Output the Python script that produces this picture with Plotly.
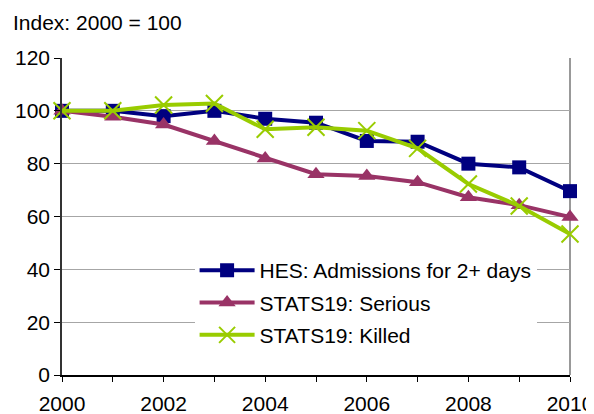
import plotly.graph_objects as go

years = [2000, 2001, 2002, 2003, 2004, 2005, 2006, 2007, 2008, 2009, 2010]
hes = [100, 100, 98, 100, 97, 95.5, 88.6, 88.3, 80, 78.6, 69.6]
serious = [100, 97.8, 94.8, 88.6, 82, 76, 75.3, 73, 67.3, 64.3, 59.8]
killed = [100, 100, 102.2, 102.8, 93, 93.8, 92.5, 85.8, 72.3, 64, 53.4]

series_names = ["HES: Admissions for 2+ days", "STATS19: Serious", "STATS19: Killed"]
y_ticks = [0, 20, 40, 60, 80, 100, 120]
x_tick_labels = [2000, 2002, 2004, 2006, 2008, 2010]

FONT = "Liberation Sans, Arial, sans-serif"
FS = 21

fig = go.Figure()
fig.add_trace(go.Scatter(
    x=years, y=hes, name=series_names[0], mode="lines+markers",
    line=dict(color="#000080", width=4),
    marker=dict(symbol="square", size=14, color="#000080"),
    legendgroup="a", cliponaxis=False))
fig.add_trace(go.Scatter(
    x=years, y=serious, name=series_names[1], mode="lines+markers",
    line=dict(color="#993366", width=4),
    marker=dict(symbol="triangle-up", size=15, color="#993366"),
    legendgroup="b", cliponaxis=False))
fig.add_trace(go.Scatter(
    x=years, y=killed, name=series_names[2], mode="lines+markers",
    line=dict(color="#99CC00", width=4),
    marker=dict(symbol="x-thin", size=17, line=dict(color="#99CC00", width=2)),
    legendgroup="c", cliponaxis=False))

# page body has an 8px margin, so the figure is drawn 8px in from the window edge
fig.update_layout(
    width=586, height=406,
    margin=dict(l=54, r=24, t=50, b=39),
    plot_bgcolor="white", paper_bgcolor="white",
    font=dict(family=FONT, size=FS, color="black"),
    showlegend=True,
    legend=dict(
        x=0.261, y=0.394, xanchor="left", yanchor="top",
        bgcolor="white", font=dict(size=FS, family=FONT),
        itemwidth=55, traceorder="grouped", tracegroupgap=2,
    ),
    annotations=[dict(
        text="Index: 2000 = 100", xref="paper", yref="paper",
        x=-51/508, y=1 + 36/317, xanchor="left", yanchor="middle",
        showarrow=False, font=dict(size=FS, family=FONT))],
)
fig.update_xaxes(
    range=[2000, 2010], tickvals=x_tick_labels, ticktext=[str(v) for v in x_tick_labels],
    ticks="outside", ticklen=5, tickcolor="black", tickwidth=1,
    minor=dict(dtick=1, ticks="outside", ticklen=5, tickcolor="black", tick0=2000),
    showline=True, linecolor="black", linewidth=1.5, mirror=False,
    showgrid=False, zeroline=False, ticklabelstandoff=4, automargin=False,
)
fig.update_yaxes(
    range=[0, 120], tickvals=y_ticks,
    ticks="outside", ticklen=6, tickcolor="black",
    showline=True, linecolor="#333333", linewidth=1.5,
    showgrid=True, gridcolor="#a6a6a6", gridwidth=1, zeroline=False,
    automargin=False,
)
# right border of the plot area
fig.add_shape(type="line", xref="paper", yref="paper", x0=1, x1=1, y0=0, y1=1,
              line=dict(color="#999999", width=2), layer="below")

fig.write_html("out.html")
